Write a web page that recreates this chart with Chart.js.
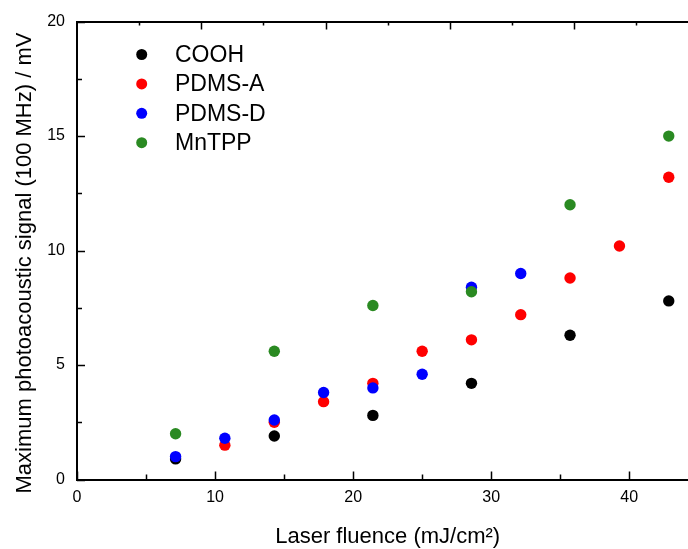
<!DOCTYPE html>
<html lang="en">
<head>
    <meta charset="UTF-8">
    <title>Photoacoustic signal vs laser fluence</title>
    <script src="https://cdn.jsdelivr.net/npm/chart.js"></script>
    <style>
        html, body { margin: 0; padding: 0; background: #fff; overflow: hidden; }
        #wrap { width: 704px; height: 549px; }
    </style>
</head>
<body>
<div id="wrap">
    <canvas id="paChart" width="704" height="549"></canvas>
</div>

<script>
    // Laser fluence (mJ/cm2) at which each point was measured
    const fluence = [7.14, 10.71, 14.29, 17.86, 21.43, 25.0, 28.57, 32.14, 35.71, 39.29, 42.86];

    // Maximum photoacoustic signal (mV), null where there is no point
    const cooh   = [0.9, null, 1.9, null, 2.8, null, 4.2, null, 6.3, null, 7.8];
    const pdmsA  = [null, 1.5, 2.5, 3.4, 4.2, 5.6, 6.1, 7.2, 8.8, 10.2, 13.2];
    const pdmsD  = [1.0, 1.8, 2.6, 3.8, 4.0, 4.6, 8.4, 9.0, null, null, null];
    const mntpp  = [2.0, null, 5.6, null, 7.6, null, 8.2, null, 12.0, null, 15.0];

    const seriesNames  = ['COOH', 'PDMS-A', 'PDMS-D', 'MnTPP'];
    const seriesColors = ['#000000', '#ff0000', '#0000ff', '#2a8a22'];
    const seriesValues = [cooh, pdmsA, pdmsD, mntpp];

    const yTicks = [0, 5, 10, 15, 20];
    const xTicks = [0, 10, 20, 30, 40];

    const FONT = '"Liberation Sans", Arial, sans-serif';

    function toPoints(values) {
        const pts = [];
        values.forEach((v, i) => {
            if (v !== null) pts.push({ x: fluence[i], y: v });
        });
        return pts;
    }

    // inward tick marks, legend and rotated y title
    const frame = {
        id: 'frame',
        afterDraw(chart) {
            const ctx = chart.ctx;
            const area = chart.chartArea;
            const x = chart.scales.x, y = chart.scales.y, top = chart.scales.xTop;
            ctx.save();
            ctx.strokeStyle = '#000';
            ctx.lineWidth = 1.5;
            ctx.beginPath();
            // left axis: majors every 5, minors in between
            for (let v = 0; v <= 20; v += 2.5) {
                const py = Math.round(y.getPixelForValue(v)) + 0.5;
                const len = v % 5 === 0 ? 8 : 5;
                ctx.moveTo(area.left, py);
                ctx.lineTo(area.left + len, py);
            }
            // bottom axis
            for (let v = 0; v <= 45; v += 5) {
                const px = Math.round(x.getPixelForValue(v)) + 0.5;
                const len = v % 10 === 0 ? 8 : 5;
                ctx.moveTo(px, area.bottom);
                ctx.lineTo(px, area.bottom - len);
            }
            // top axis
            for (let v = 1; v <= 10; v++) {
                const px = Math.round(top.getPixelForValue(v)) + 0.5;
                const len = v % 2 === 0 ? 8 : 4;
                ctx.moveTo(px, area.top);
                ctx.lineTo(px, area.top + len);
            }
            ctx.stroke();

            // legend
            ctx.font = '23px ' + FONT;
            ctx.textBaseline = 'middle';
            ctx.textAlign = 'left';
            seriesNames.forEach((name, i) => {
                const cy = 54.5 + i * 29.4;
                ctx.fillStyle = seriesColors[i];
                ctx.beginPath();
                ctx.arc(141.7, cy, 5.5, 0, Math.PI * 2);
                ctx.fill();
                ctx.fillStyle = '#000';
                ctx.fillText(name, 175, cy + 1);
            });

            // y axis title
            ctx.translate(25, (area.top + area.bottom) / 2 + 12.5);
            ctx.rotate(-Math.PI / 2);
            ctx.textAlign = 'center';
            ctx.font = '22px ' + FONT;
            ctx.fillText('Maximum photoacoustic signal (100 MHz) / mV', 0, 0);
            ctx.restore();
        }
    };

    const ctx = document.getElementById('paChart').getContext('2d');
    new Chart(ctx, {
        type: 'scatter',
        data: {
            datasets: seriesNames.map((name, i) => ({
                label: name,
                data: toPoints(seriesValues[i]),
                backgroundColor: seriesColors[i],
                borderColor: seriesColors[i],
                borderWidth: 0,
                pointRadius: 5.7,
                order: seriesNames.length - i
            }))
        },
        options: {
            responsive: false,
            animation: false,
            events: [],
            layout: { padding: { left: 0, right: 2, top: 0, bottom: 0 } },
            plugins: {
                legend: { display: false },
                tooltip: { enabled: false }
            },
            scales: {
                x: {
                    type: 'linear',
                    position: 'bottom',
                    min: 0,
                    max: 45,
                    afterFit: s => { s.height = 69.5; },
                    afterBuildTicks: s => { s.ticks = xTicks.map(v => ({ value: v })); },
                    grid: { display: false, drawTicks: false },
                    border: { display: true, color: '#000', width: 2 },
                    ticks: { color: '#000', font: { family: FONT, size: 16 }, padding: 8, maxRotation: 0 },
                    title: {
                        display: true,
                        text: 'Laser fluence (mJ/cm²)',
                        color: '#000',
                        font: { family: FONT, size: 22 },
                        padding: { top: 0, bottom: -1.5 }
                    }
                },
                xTop: {
                    type: 'linear',
                    axis: 'x',
                    position: 'top',
                    min: 0,
                    max: 10,
                    afterFit: s => { s.height = 18; },
                    grid: { display: false, drawTicks: false },
                    border: { display: true, color: '#000', width: 2 },
                    ticks: { display: false }
                },
                y: {
                    type: 'linear',
                    min: 0,
                    max: 20,
                    afterFit: s => { s.width = 77; },
                    afterBuildTicks: s => { s.ticks = yTicks.map(v => ({ value: v })); },
                    grid: { display: false, drawTicks: false },
                    border: { display: true, color: '#000', width: 2 },
                    ticks: { color: '#000', font: { family: FONT, size: 16 }, padding: 12 }
                }
            }
        },
        plugins: [frame]
    });
</script>
</body>
</html>
